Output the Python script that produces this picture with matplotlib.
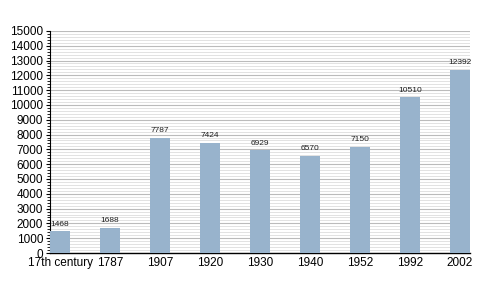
import matplotlib
matplotlib.use('Agg')
import matplotlib.pyplot as plt
from matplotlib.ticker import MultipleLocator

plt.rcParams['font.family'] = ['Liberation Sans', 'DejaVu Sans']

years = ['17th century', '1787', '1907', '1920', '1930', '1940', '1952', '1992', '2002']
population = [1468, 1688, 7787, 7424, 6929, 6570, 7150, 10510, 12392]

fig = plt.figure(figsize=(5, 3.03), dpi=100)
ax = fig.add_axes([0.1, 0.165, 0.84, 0.733])

x = list(range(len(years)))
bars = ax.bar(x, population, width=0.4, align='edge', color='#98b3cc', zorder=3)
for b, v in zip(bars, population):
    ax.text(b.get_x() + b.get_width() / 2, v + 250, str(v), ha='center', va='bottom',
            fontsize=6, color='#222222', zorder=4)

ax.set_xlim(0, len(years) - 1 + 0.4)
ax.set_ylim(0, 15000)
ax.set_xticks([i + 0.2 for i in x])
ax.set_xticklabels(years)
ax.yaxis.set_major_locator(MultipleLocator(1000))
ax.yaxis.set_minor_locator(MultipleLocator(200))
ax.grid(which='major', axis='y', color='#bbbbbb', linewidth=0.8, zorder=0)
ax.grid(which='minor', axis='y', color='#dddddd', linewidth=0.6, zorder=0)

for s in ['top', 'right']:
    ax.spines[s].set_visible(False)
ax.spines['left'].set_linewidth(0.8)
ax.spines['bottom'].set_linewidth(1.0)
ax.tick_params(axis='x', length=0, labelsize=8.5, pad=3)
ax.tick_params(axis='y', which='major', length=3, labelsize=8.5, pad=2)
ax.tick_params(axis='y', which='minor', length=2)

fig.savefig('out.png', dpi=100)
